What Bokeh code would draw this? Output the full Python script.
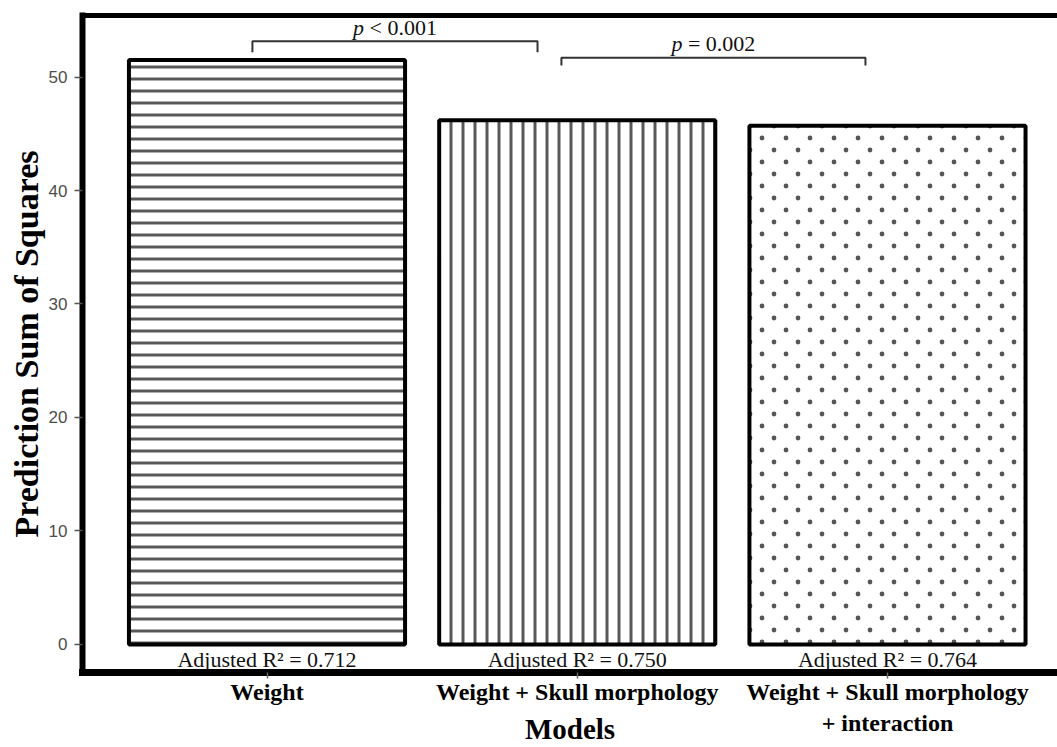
from bokeh.plotting import figure
from bokeh.models import ColumnDataSource, Range1d, FixedTicker, LinearAxis, CanvasTexture
from bokeh.core.properties import value
from bokeh.embed import file_html
from bokeh.resources import INLINE

# ---------------- data ----------------
models = ["Weight", "Weight + Skull morphology", "Weight + Skull morphology\n+ interaction"]
press_values = [51.5, 46.2, 45.7]          # Prediction Sum of Squares
adj_r2 = [0.712, 0.750, 0.764]
cmp_left = [0, 1]                          # index of left model in comparison
cmp_right = [1, 2]                         # index of right model in comparison
cmp_text = ["< 0.001", "= 0.002"]          # shown after an italic "p"
y_ticks = [0, 10, 20, 30, 40, 50]

# ---------------- styles / positions ----------------
hatch_patterns = ["horizontal_line", "vertical_line", "stagger_dots"]
hatch_scales = [12, 12, 24]
hatch_weights = [3, 3, 2.4]
bar_width = 0.89
r2_label_y = -1.32
bracket_left_off = [-0.047, -0.051]
bracket_right_off = [-0.128, -0.071]
bracket_top = [53.15, 51.69]
bracket_drop = [0.97, 0.68]
p_text_y = [54.39, 52.95]

SERIF = value("Liberation Serif")

idx = list(range(len(models)))

p = figure(width=1057, height=747, output_backend="svg", toolbar_location=None,
           x_range=Range1d(-0.5947, 2.548), y_range=Range1d(-2.47, 55.42),
           min_border_left=82, min_border_right=0, min_border_top=15, min_border_bottom=75,
           background_fill_color="white", border_fill_color="white")
p.outline_line_color = None
p.xgrid.visible = False
p.ygrid.visible = False

dots = CanvasTexture(repetition="repeat", code="""
const c = ctx.canvas;
c.width = 24;
c.height = 24;
ctx.fillStyle = '#565656';
ctx.beginPath(); ctx.arc(6, 6, 2.4, 0, 2*Math.PI); ctx.fill();
ctx.beginPath(); ctx.arc(18, 18, 2.4, 0, 2*Math.PI); ctx.fill();
""")

src = ColumnDataSource(dict(x=idx, top=press_values, hp=hatch_patterns,
                            hs=hatch_scales, hw=hatch_weights))
p.vbar(x="x", top="top", bottom=0, width=bar_width, source=src,
       fill_color="white", line_color="black", line_width=4,
       hatch_pattern="hp", hatch_scale="hs", hatch_weight="hw",
       hatch_color="#585858", hatch_extra={"stagger_dots": dots})

# Adjusted R² labels
p.text(x=idx, y=[r2_label_y] * len(idx),
       text=[f"Adjusted R\u00b2 = {v:.3f}" for v in adj_r2],
       text_font=SERIF, text_font_size="22px", text_color="#111111",
       text_align="center", text_baseline="middle")

# significance brackets
xs, ys, mids = [], [], []
for k in range(len(cmp_left)):
    xl = cmp_left[k] + bracket_left_off[k]
    xr = cmp_right[k] + bracket_right_off[k]
    top = bracket_top[k]
    lo = top - bracket_drop[k]
    xs.append([xl, xl, xr, xr])
    ys.append([lo, top, top, lo])
    mids.append((xl + xr) / 2)
p.multi_line(xs=xs, ys=ys, line_color="#333333", line_width=2)

p.text(x=mids, y=p_text_y, text=["p"] * len(mids), text_font=SERIF,
       text_font_style="italic", text_font_size="22px", text_color="#111111",
       text_align="right", text_baseline="middle", x_offset=-31)
p.text(x=mids, y=p_text_y, text=cmp_text, text_font=SERIF,
       text_font_size="22px", text_color="#111111",
       text_align="left", text_baseline="middle", x_offset=-25.5)

# y axis
ya = p.yaxis[0]
ya.ticker = FixedTicker(ticks=y_ticks)
ya.axis_line_width = 6
ya.axis_line_color = "black"
ya.axis_line_cap = "square"
ya.major_tick_out = 8
ya.major_tick_in = 0
ya.major_tick_line_color = "#555555"
ya.major_tick_line_width = 1.5
ya.minor_tick_line_color = None
ya.major_label_standoff = 7
ya.major_label_text_font = "Liberation Sans"
ya.major_label_text_font_size = "17px"
ya.major_label_text_color = "#4d4d4d"
ya.axis_label = "Prediction Sum of Squares"
ya.axis_label_text_font = "Liberation Serif"
ya.axis_label_text_font_style = "bold"
ya.axis_label_text_font_size = "34px"
ya.axis_label_text_color = "black"
ya.axis_label_standoff = 1

# x axis
xa = p.xaxis[0]
xa.ticker = FixedTicker(ticks=idx)
xa.major_label_overrides = {i: m for i, m in zip(idx, models)}
xa.axis_line_width = 7
xa.axis_line_color = "black"
xa.axis_line_cap = "square"
xa.major_tick_out = 6
xa.major_tick_in = 0
xa.major_tick_line_color = "#666666"
xa.major_tick_line_width = 1.5
xa.minor_tick_line_color = None
xa.major_label_standoff = 0
xa.major_label_text_font = "Liberation Serif"
xa.major_label_text_font_style = "bold"
xa.major_label_text_font_size = "24px"
xa.major_label_text_color = "black"
xa.axis_label = "Models"
xa.axis_label_text_font = "Liberation Serif"
xa.axis_label_text_font_style = "bold"
xa.axis_label_text_font_size = "29px"
xa.axis_label_text_color = "black"
xa.axis_label_standoff = -26

# top border
top_axis = LinearAxis(ticker=FixedTicker(ticks=[]), axis_line_width=5,
                      axis_line_color="black", axis_line_cap="square",
                      major_tick_line_color=None, minor_tick_line_color=None,
                      major_tick_out=0, major_tick_in=0, major_label_standoff=0,
                      major_label_text_font_size="0px")
p.add_layout(top_axis, "above")

open("out.html", "w").write(file_html(p, INLINE))
